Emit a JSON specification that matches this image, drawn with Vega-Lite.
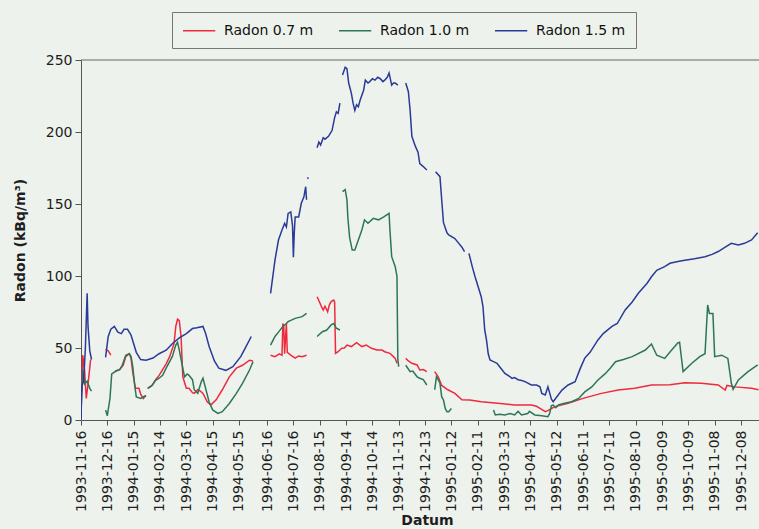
{
  "$schema": "https://vega.github.io/schema/vega-lite/v6.json",
  "width": 678,
  "height": 360,
  "autosize": {"type": "none"},
  "padding": {"left": 81, "top": 60, "right": 0, "bottom": 109},
  "background": "#eef2ec",
  "config": {
    "view": {"stroke": null},
    "font": "DejaVu Sans",
    "axis": {
      "labelFont": "DejaVu Sans",
      "labelFontSize": 14,
      "labelColor": "#1e1e1e",
      "titleFont": "DejaVu Sans",
      "titleFontSize": 14,
      "titleFontWeight": "bold",
      "titleColor": "#1e1e1e",
      "domainColor": "#555555",
      "tickColor": "#555555",
      "grid": false
    }
  },
  "layer": [
    {
      "data": {"values": [{}]},
      "mark": {"type": "rule", "color": "#666666", "strokeWidth": 1},
      "encoding": {"y": {"datum": 250, "type": "quantitative"}}
    },
    {
      "data": {
        "values": [
          {"s": "Radon 0.7 m", "g": "R1", "d": "1993-11-17", "v": 20},
          {"s": "Radon 0.7 m", "g": "R1", "d": "1993-11-18", "v": 45},
          {"s": "Radon 0.7 m", "g": "R1", "d": "1993-11-20", "v": 35},
          {"s": "Radon 0.7 m", "g": "R1", "d": "1993-11-22", "v": 15},
          {"s": "Radon 0.7 m", "g": "R1", "d": "1993-11-24", "v": 25},
          {"s": "Radon 0.7 m", "g": "R1", "d": "1993-11-27", "v": 42},
          {"s": "Radon 0.7 m", "g": "R2", "d": "1993-12-14", "v": 49},
          {"s": "Radon 0.7 m", "g": "R2", "d": "1993-12-17", "v": 48},
          {"s": "Radon 0.7 m", "g": "R2", "d": "1993-12-20", "v": 45},
          {"s": "Radon 0.7 m", "g": "R3", "d": "1993-12-25", "v": 34},
          {"s": "Radon 0.7 m", "g": "R3", "d": "1993-12-30", "v": 35},
          {"s": "Radon 0.7 m", "g": "R3", "d": "1994-01-03", "v": 38},
          {"s": "Radon 0.7 m", "g": "R3", "d": "1994-01-06", "v": 44},
          {"s": "Radon 0.7 m", "g": "R3", "d": "1994-01-10", "v": 46},
          {"s": "Radon 0.7 m", "g": "R3", "d": "1994-01-12", "v": 43},
          {"s": "Radon 0.7 m", "g": "R3", "d": "1994-01-14", "v": 33},
          {"s": "Radon 0.7 m", "g": "R3", "d": "1994-01-17", "v": 22},
          {"s": "Radon 0.7 m", "g": "R3", "d": "1994-01-21", "v": 22},
          {"s": "Radon 0.7 m", "g": "R3", "d": "1994-01-23", "v": 18},
          {"s": "Radon 0.7 m", "g": "R3", "d": "1994-01-26", "v": 15},
          {"s": "Radon 0.7 m", "g": "R3", "d": "1994-01-29", "v": 17},
          {"s": "Radon 0.7 m", "g": "R4", "d": "1994-01-31", "v": 22},
          {"s": "Radon 0.7 m", "g": "R4", "d": "1994-02-05", "v": 24},
          {"s": "Radon 0.7 m", "g": "R4", "d": "1994-02-09", "v": 28},
          {"s": "Radon 0.7 m", "g": "R4", "d": "1994-02-13", "v": 31},
          {"s": "Radon 0.7 m", "g": "R4", "d": "1994-02-17", "v": 35},
          {"s": "Radon 0.7 m", "g": "R4", "d": "1994-02-21", "v": 39},
          {"s": "Radon 0.7 m", "g": "R4", "d": "1994-02-25", "v": 44},
          {"s": "Radon 0.7 m", "g": "R4", "d": "1994-03-02", "v": 53},
          {"s": "Radon 0.7 m", "g": "R4", "d": "1994-03-04", "v": 65},
          {"s": "Radon 0.7 m", "g": "R4", "d": "1994-03-06", "v": 70},
          {"s": "Radon 0.7 m", "g": "R4", "d": "1994-03-08", "v": 69},
          {"s": "Radon 0.7 m", "g": "R4", "d": "1994-03-10", "v": 58},
          {"s": "Radon 0.7 m", "g": "R4", "d": "1994-03-12", "v": 30},
          {"s": "Radon 0.7 m", "g": "R4", "d": "1994-03-16", "v": 22},
          {"s": "Radon 0.7 m", "g": "R4", "d": "1994-03-19", "v": 22},
          {"s": "Radon 0.7 m", "g": "R4", "d": "1994-03-23", "v": 19},
          {"s": "Radon 0.7 m", "g": "R4", "d": "1994-03-25", "v": 18.5},
          {"s": "Radon 0.7 m", "g": "R4", "d": "1994-03-29", "v": 21},
          {"s": "Radon 0.7 m", "g": "R4", "d": "1994-04-01", "v": 20},
          {"s": "Radon 0.7 m", "g": "R4", "d": "1994-04-04", "v": 18.5},
          {"s": "Radon 0.7 m", "g": "R4", "d": "1994-04-09", "v": 12.5},
          {"s": "Radon 0.7 m", "g": "R4", "d": "1994-04-13", "v": 10.5},
          {"s": "Radon 0.7 m", "g": "R4", "d": "1994-04-19", "v": 14},
          {"s": "Radon 0.7 m", "g": "R4", "d": "1994-04-26", "v": 21},
          {"s": "Radon 0.7 m", "g": "R4", "d": "1994-05-04", "v": 30},
          {"s": "Radon 0.7 m", "g": "R4", "d": "1994-05-12", "v": 36},
          {"s": "Radon 0.7 m", "g": "R4", "d": "1994-05-19", "v": 38},
          {"s": "Radon 0.7 m", "g": "R4", "d": "1994-05-27", "v": 41.5},
          {"s": "Radon 0.7 m", "g": "R4", "d": "1994-05-31", "v": 41},
          {"s": "Radon 0.7 m", "g": "R5", "d": "1994-06-20", "v": 45},
          {"s": "Radon 0.7 m", "g": "R5", "d": "1994-06-25", "v": 44},
          {"s": "Radon 0.7 m", "g": "R5", "d": "1994-06-30", "v": 46},
          {"s": "Radon 0.7 m", "g": "R5", "d": "1994-07-03", "v": 45},
          {"s": "Radon 0.7 m", "g": "R5", "d": "1994-07-04", "v": 67},
          {"s": "Radon 0.7 m", "g": "R5", "d": "1994-07-05", "v": 65},
          {"s": "Radon 0.7 m", "g": "R5", "d": "1994-07-06", "v": 46},
          {"s": "Radon 0.7 m", "g": "R5", "d": "1994-07-08", "v": 67},
          {"s": "Radon 0.7 m", "g": "R5", "d": "1994-07-09", "v": 47},
          {"s": "Radon 0.7 m", "g": "R5", "d": "1994-07-13", "v": 45},
          {"s": "Radon 0.7 m", "g": "R5", "d": "1994-07-18", "v": 43},
          {"s": "Radon 0.7 m", "g": "R5", "d": "1994-07-22", "v": 44.5},
          {"s": "Radon 0.7 m", "g": "R5", "d": "1994-07-26", "v": 44},
          {"s": "Radon 0.7 m", "g": "R5", "d": "1994-07-31", "v": 45},
          {"s": "Radon 0.7 m", "g": "R6", "d": "1994-08-12", "v": 85.6},
          {"s": "Radon 0.7 m", "g": "R6", "d": "1994-08-14", "v": 83},
          {"s": "Radon 0.7 m", "g": "R6", "d": "1994-08-17", "v": 78.7},
          {"s": "Radon 0.7 m", "g": "R6", "d": "1994-08-19", "v": 76.4},
          {"s": "Radon 0.7 m", "g": "R6", "d": "1994-08-21", "v": 79},
          {"s": "Radon 0.7 m", "g": "R6", "d": "1994-08-24", "v": 75.2},
          {"s": "Radon 0.7 m", "g": "R6", "d": "1994-08-26", "v": 80},
          {"s": "Radon 0.7 m", "g": "R6", "d": "1994-08-28", "v": 82.2},
          {"s": "Radon 0.7 m", "g": "R6", "d": "1994-08-31", "v": 83.3},
          {"s": "Radon 0.7 m", "g": "R6", "d": "1994-09-01", "v": 82},
          {"s": "Radon 0.7 m", "g": "R6", "d": "1994-09-02", "v": 46.3},
          {"s": "Radon 0.7 m", "g": "R6", "d": "1994-09-05", "v": 47.4},
          {"s": "Radon 0.7 m", "g": "R6", "d": "1994-09-09", "v": 49.8},
          {"s": "Radon 0.7 m", "g": "R6", "d": "1994-09-12", "v": 50},
          {"s": "Radon 0.7 m", "g": "R6", "d": "1994-09-15", "v": 52},
          {"s": "Radon 0.7 m", "g": "R6", "d": "1994-09-20", "v": 51},
          {"s": "Radon 0.7 m", "g": "R6", "d": "1994-09-26", "v": 53.7},
          {"s": "Radon 0.7 m", "g": "R6", "d": "1994-10-02", "v": 51},
          {"s": "Radon 0.7 m", "g": "R6", "d": "1994-10-07", "v": 52},
          {"s": "Radon 0.7 m", "g": "R6", "d": "1994-10-13", "v": 49.8},
          {"s": "Radon 0.7 m", "g": "R6", "d": "1994-10-19", "v": 48.6},
          {"s": "Radon 0.7 m", "g": "R6", "d": "1994-10-25", "v": 48.6},
          {"s": "Radon 0.7 m", "g": "R6", "d": "1994-10-28", "v": 47.4},
          {"s": "Radon 0.7 m", "g": "R6", "d": "1994-11-03", "v": 46.3},
          {"s": "Radon 0.7 m", "g": "R6", "d": "1994-11-07", "v": 44},
          {"s": "Radon 0.7 m", "g": "R6", "d": "1994-11-09", "v": 42.8},
          {"s": "Radon 0.7 m", "g": "R6", "d": "1994-11-11", "v": 39.4},
          {"s": "Radon 0.7 m", "g": "R7", "d": "1994-11-21", "v": 42.8},
          {"s": "Radon 0.7 m", "g": "R7", "d": "1994-11-24", "v": 41},
          {"s": "Radon 0.7 m", "g": "R7", "d": "1994-11-28", "v": 39.4},
          {"s": "Radon 0.7 m", "g": "R7", "d": "1994-12-04", "v": 38.2},
          {"s": "Radon 0.7 m", "g": "R7", "d": "1994-12-07", "v": 34.7},
          {"s": "Radon 0.7 m", "g": "R7", "d": "1994-12-11", "v": 35},
          {"s": "Radon 0.7 m", "g": "R7", "d": "1994-12-15", "v": 33.6},
          {"s": "Radon 0.7 m", "g": "R8", "d": "1994-12-24", "v": 33.6},
          {"s": "Radon 0.7 m", "g": "R8", "d": "1994-12-28", "v": 30},
          {"s": "Radon 0.7 m", "g": "R8", "d": "1995-01-01", "v": 24},
          {"s": "Radon 0.7 m", "g": "R8", "d": "1995-01-08", "v": 21},
          {"s": "Radon 0.7 m", "g": "R8", "d": "1995-01-16", "v": 18.5},
          {"s": "Radon 0.7 m", "g": "R8", "d": "1995-01-24", "v": 14},
          {"s": "Radon 0.7 m", "g": "R8", "d": "1995-02-02", "v": 13.9},
          {"s": "Radon 0.7 m", "g": "R8", "d": "1995-02-15", "v": 12.7},
          {"s": "Radon 0.7 m", "g": "R8", "d": "1995-03-06", "v": 11.6},
          {"s": "Radon 0.7 m", "g": "R8", "d": "1995-03-25", "v": 10.4},
          {"s": "Radon 0.7 m", "g": "R8", "d": "1995-04-13", "v": 10.4},
          {"s": "Radon 0.7 m", "g": "R8", "d": "1995-04-19", "v": 9.5},
          {"s": "Radon 0.7 m", "g": "R8", "d": "1995-04-23", "v": 8},
          {"s": "Radon 0.7 m", "g": "R8", "d": "1995-04-29", "v": 5.8},
          {"s": "Radon 0.7 m", "g": "R8", "d": "1995-05-02", "v": 6.5},
          {"s": "Radon 0.7 m", "g": "R8", "d": "1995-05-06", "v": 8},
          {"s": "Radon 0.7 m", "g": "R8", "d": "1995-05-10", "v": 9.3},
          {"s": "Radon 0.7 m", "g": "R8", "d": "1995-05-25", "v": 11.6},
          {"s": "Radon 0.7 m", "g": "R8", "d": "1995-06-11", "v": 15},
          {"s": "Radon 0.7 m", "g": "R8", "d": "1995-07-02", "v": 18.5},
          {"s": "Radon 0.7 m", "g": "R8", "d": "1995-07-21", "v": 20.8},
          {"s": "Radon 0.7 m", "g": "R8", "d": "1995-08-09", "v": 22},
          {"s": "Radon 0.7 m", "g": "R8", "d": "1995-08-28", "v": 24.3},
          {"s": "Radon 0.7 m", "g": "R8", "d": "1995-09-18", "v": 24.5},
          {"s": "Radon 0.7 m", "g": "R8", "d": "1995-10-05", "v": 25.9},
          {"s": "Radon 0.7 m", "g": "R8", "d": "1995-10-24", "v": 25.5},
          {"s": "Radon 0.7 m", "g": "R8", "d": "1995-11-12", "v": 24.3},
          {"s": "Radon 0.7 m", "g": "R8", "d": "1995-11-20", "v": 20.8},
          {"s": "Radon 0.7 m", "g": "R8", "d": "1995-11-22", "v": 24},
          {"s": "Radon 0.7 m", "g": "R8", "d": "1995-12-01", "v": 23},
          {"s": "Radon 0.7 m", "g": "R8", "d": "1995-12-20", "v": 22},
          {"s": "Radon 0.7 m", "g": "R8", "d": "1995-12-28", "v": 21},

          {"s": "Radon 1.0 m", "g": "G1", "d": "1993-11-16", "v": 5},
          {"s": "Radon 1.0 m", "g": "G1", "d": "1993-11-18", "v": 35},
          {"s": "Radon 1.0 m", "g": "G1", "d": "1993-11-20", "v": 25},
          {"s": "Radon 1.0 m", "g": "G1", "d": "1993-11-23", "v": 27},
          {"s": "Radon 1.0 m", "g": "G1", "d": "1993-11-26", "v": 22},
          {"s": "Radon 1.0 m", "g": "G1", "d": "1993-11-28", "v": 20},
          {"s": "Radon 1.0 m", "g": "G2", "d": "1993-12-14", "v": 7},
          {"s": "Radon 1.0 m", "g": "G2", "d": "1993-12-16", "v": 3},
          {"s": "Radon 1.0 m", "g": "G2", "d": "1993-12-19", "v": 15},
          {"s": "Radon 1.0 m", "g": "G2", "d": "1993-12-21", "v": 32},
          {"s": "Radon 1.0 m", "g": "G2", "d": "1993-12-26", "v": 34},
          {"s": "Radon 1.0 m", "g": "G2", "d": "1993-12-30", "v": 35},
          {"s": "Radon 1.0 m", "g": "G2", "d": "1994-01-02", "v": 38},
          {"s": "Radon 1.0 m", "g": "G2", "d": "1994-01-06", "v": 45},
          {"s": "Radon 1.0 m", "g": "G2", "d": "1994-01-10", "v": 46},
          {"s": "Radon 1.0 m", "g": "G2", "d": "1994-01-12", "v": 44},
          {"s": "Radon 1.0 m", "g": "G2", "d": "1994-01-14", "v": 37},
          {"s": "Radon 1.0 m", "g": "G2", "d": "1994-01-16", "v": 25},
          {"s": "Radon 1.0 m", "g": "G2", "d": "1994-01-18", "v": 16},
          {"s": "Radon 1.0 m", "g": "G2", "d": "1994-01-23", "v": 15},
          {"s": "Radon 1.0 m", "g": "G2", "d": "1994-01-29", "v": 17},
          {"s": "Radon 1.0 m", "g": "G3", "d": "1994-01-31", "v": 22},
          {"s": "Radon 1.0 m", "g": "G3", "d": "1994-02-05", "v": 24},
          {"s": "Radon 1.0 m", "g": "G3", "d": "1994-02-09", "v": 27.5},
          {"s": "Radon 1.0 m", "g": "G3", "d": "1994-02-13", "v": 29},
          {"s": "Radon 1.0 m", "g": "G3", "d": "1994-02-17", "v": 31},
          {"s": "Radon 1.0 m", "g": "G3", "d": "1994-02-21", "v": 36},
          {"s": "Radon 1.0 m", "g": "G3", "d": "1994-02-28", "v": 44},
          {"s": "Radon 1.0 m", "g": "G3", "d": "1994-03-04", "v": 52},
          {"s": "Radon 1.0 m", "g": "G3", "d": "1994-03-06", "v": 54},
          {"s": "Radon 1.0 m", "g": "G3", "d": "1994-03-08", "v": 48.5},
          {"s": "Radon 1.0 m", "g": "G3", "d": "1994-03-11", "v": 39},
          {"s": "Radon 1.0 m", "g": "G3", "d": "1994-03-14", "v": 30},
          {"s": "Radon 1.0 m", "g": "G3", "d": "1994-03-17", "v": 32},
          {"s": "Radon 1.0 m", "g": "G3", "d": "1994-03-19", "v": 31},
          {"s": "Radon 1.0 m", "g": "G3", "d": "1994-03-23", "v": 28},
          {"s": "Radon 1.0 m", "g": "G3", "d": "1994-03-25", "v": 21},
          {"s": "Radon 1.0 m", "g": "G3", "d": "1994-03-29", "v": 18.5},
          {"s": "Radon 1.0 m", "g": "G3", "d": "1994-04-02", "v": 26.5},
          {"s": "Radon 1.0 m", "g": "G3", "d": "1994-04-04", "v": 29},
          {"s": "Radon 1.0 m", "g": "G3", "d": "1994-04-07", "v": 22},
          {"s": "Radon 1.0 m", "g": "G3", "d": "1994-04-11", "v": 12.5},
          {"s": "Radon 1.0 m", "g": "G3", "d": "1994-04-15", "v": 7},
          {"s": "Radon 1.0 m", "g": "G3", "d": "1994-04-21", "v": 4.6},
          {"s": "Radon 1.0 m", "g": "G3", "d": "1994-04-26", "v": 5.8},
          {"s": "Radon 1.0 m", "g": "G3", "d": "1994-05-04", "v": 11.5},
          {"s": "Radon 1.0 m", "g": "G3", "d": "1994-05-12", "v": 18.5},
          {"s": "Radon 1.0 m", "g": "G3", "d": "1994-05-19", "v": 25.5},
          {"s": "Radon 1.0 m", "g": "G3", "d": "1994-05-27", "v": 34.7},
          {"s": "Radon 1.0 m", "g": "G3", "d": "1994-05-31", "v": 40.5},
          {"s": "Radon 1.0 m", "g": "G4", "d": "1994-06-20", "v": 52},
          {"s": "Radon 1.0 m", "g": "G4", "d": "1994-06-25", "v": 58},
          {"s": "Radon 1.0 m", "g": "G4", "d": "1994-06-29", "v": 61},
          {"s": "Radon 1.0 m", "g": "G4", "d": "1994-07-04", "v": 65},
          {"s": "Radon 1.0 m", "g": "G4", "d": "1994-07-08", "v": 67},
          {"s": "Radon 1.0 m", "g": "G4", "d": "1994-07-10", "v": 68.3},
          {"s": "Radon 1.0 m", "g": "G4", "d": "1994-07-18", "v": 70.6},
          {"s": "Radon 1.0 m", "g": "G4", "d": "1994-07-26", "v": 71.8},
          {"s": "Radon 1.0 m", "g": "G4", "d": "1994-07-31", "v": 74},
          {"s": "Radon 1.0 m", "g": "G5", "d": "1994-08-12", "v": 58},
          {"s": "Radon 1.0 m", "g": "G5", "d": "1994-08-18", "v": 61.3},
          {"s": "Radon 1.0 m", "g": "G5", "d": "1994-08-23", "v": 62.5},
          {"s": "Radon 1.0 m", "g": "G5", "d": "1994-08-28", "v": 66},
          {"s": "Radon 1.0 m", "g": "G5", "d": "1994-08-31", "v": 67},
          {"s": "Radon 1.0 m", "g": "G5", "d": "1994-09-03", "v": 63.7},
          {"s": "Radon 1.0 m", "g": "G5", "d": "1994-09-07", "v": 62.5},
          {"s": "Radon 1.0 m", "g": "G6", "d": "1994-09-10", "v": 158.6},
          {"s": "Radon 1.0 m", "g": "G6", "d": "1994-09-13", "v": 160},
          {"s": "Radon 1.0 m", "g": "G6", "d": "1994-09-15", "v": 153},
          {"s": "Radon 1.0 m", "g": "G6", "d": "1994-09-16", "v": 141},
          {"s": "Radon 1.0 m", "g": "G6", "d": "1994-09-18", "v": 127},
          {"s": "Radon 1.0 m", "g": "G6", "d": "1994-09-21", "v": 118},
          {"s": "Radon 1.0 m", "g": "G6", "d": "1994-09-24", "v": 118},
          {"s": "Radon 1.0 m", "g": "G6", "d": "1994-09-28", "v": 125},
          {"s": "Radon 1.0 m", "g": "G6", "d": "1994-10-02", "v": 132},
          {"s": "Radon 1.0 m", "g": "G6", "d": "1994-10-05", "v": 139},
          {"s": "Radon 1.0 m", "g": "G6", "d": "1994-10-09", "v": 136.6},
          {"s": "Radon 1.0 m", "g": "G6", "d": "1994-10-15", "v": 140},
          {"s": "Radon 1.0 m", "g": "G6", "d": "1994-10-21", "v": 139},
          {"s": "Radon 1.0 m", "g": "G6", "d": "1994-10-27", "v": 141},
          {"s": "Radon 1.0 m", "g": "G6", "d": "1994-11-02", "v": 143.5},
          {"s": "Radon 1.0 m", "g": "G6", "d": "1994-11-03", "v": 132},
          {"s": "Radon 1.0 m", "g": "G6", "d": "1994-11-05", "v": 113.4},
          {"s": "Radon 1.0 m", "g": "G6", "d": "1994-11-09", "v": 106.5},
          {"s": "Radon 1.0 m", "g": "G6", "d": "1994-11-11", "v": 100},
          {"s": "Radon 1.0 m", "g": "G6", "d": "1994-11-12", "v": 41.7},
          {"s": "Radon 1.0 m", "g": "G6", "d": "1994-11-13", "v": 37},
          {"s": "Radon 1.0 m", "g": "G7", "d": "1994-11-21", "v": 38},
          {"s": "Radon 1.0 m", "g": "G7", "d": "1994-11-26", "v": 33.6},
          {"s": "Radon 1.0 m", "g": "G7", "d": "1994-11-29", "v": 34},
          {"s": "Radon 1.0 m", "g": "G7", "d": "1994-12-04", "v": 30},
          {"s": "Radon 1.0 m", "g": "G7", "d": "1994-12-07", "v": 29},
          {"s": "Radon 1.0 m", "g": "G7", "d": "1994-12-11", "v": 28},
          {"s": "Radon 1.0 m", "g": "G7", "d": "1994-12-15", "v": 24.3},
          {"s": "Radon 1.0 m", "g": "G8", "d": "1994-12-24", "v": 21},
          {"s": "Radon 1.0 m", "g": "G8", "d": "1994-12-26", "v": 30},
          {"s": "Radon 1.0 m", "g": "G8", "d": "1994-12-28", "v": 28},
          {"s": "Radon 1.0 m", "g": "G8", "d": "1994-12-30", "v": 25.5},
          {"s": "Radon 1.0 m", "g": "G8", "d": "1995-01-01", "v": 16},
          {"s": "Radon 1.0 m", "g": "G8", "d": "1995-01-03", "v": 13.9},
          {"s": "Radon 1.0 m", "g": "G8", "d": "1995-01-05", "v": 8},
          {"s": "Radon 1.0 m", "g": "G8", "d": "1995-01-07", "v": 5.8},
          {"s": "Radon 1.0 m", "g": "G8", "d": "1995-01-09", "v": 5.8},
          {"s": "Radon 1.0 m", "g": "G8", "d": "1995-01-12", "v": 8},
          {"s": "Radon 1.0 m", "g": "G9", "d": "1995-03-01", "v": 7},
          {"s": "Radon 1.0 m", "g": "G9", "d": "1995-03-03", "v": 3.5},
          {"s": "Radon 1.0 m", "g": "G9", "d": "1995-03-08", "v": 4},
          {"s": "Radon 1.0 m", "g": "G9", "d": "1995-03-14", "v": 3.5},
          {"s": "Radon 1.0 m", "g": "G9", "d": "1995-03-20", "v": 4.5},
          {"s": "Radon 1.0 m", "g": "G9", "d": "1995-03-25", "v": 3.5},
          {"s": "Radon 1.0 m", "g": "G9", "d": "1995-03-29", "v": 6},
          {"s": "Radon 1.0 m", "g": "G9", "d": "1995-04-02", "v": 3.5},
          {"s": "Radon 1.0 m", "g": "G9", "d": "1995-04-09", "v": 4.5},
          {"s": "Radon 1.0 m", "g": "G9", "d": "1995-04-11", "v": 6},
          {"s": "Radon 1.0 m", "g": "G9", "d": "1995-04-17", "v": 3.5},
          {"s": "Radon 1.0 m", "g": "G9", "d": "1995-04-25", "v": 3},
          {"s": "Radon 1.0 m", "g": "G9", "d": "1995-05-02", "v": 2.3},
          {"s": "Radon 1.0 m", "g": "G9", "d": "1995-05-04", "v": 4.6},
          {"s": "Radon 1.0 m", "g": "G9", "d": "1995-05-06", "v": 10},
          {"s": "Radon 1.0 m", "g": "G9", "d": "1995-05-08", "v": 10.4},
          {"s": "Radon 1.0 m", "g": "G9", "d": "1995-05-11", "v": 8.5},
          {"s": "Radon 1.0 m", "g": "G9", "d": "1995-05-14", "v": 10.4},
          {"s": "Radon 1.0 m", "g": "G9", "d": "1995-05-21", "v": 11.6},
          {"s": "Radon 1.0 m", "g": "G9", "d": "1995-05-29", "v": 12.7},
          {"s": "Radon 1.0 m", "g": "G9", "d": "1995-06-06", "v": 15},
          {"s": "Radon 1.0 m", "g": "G9", "d": "1995-06-13", "v": 19.5},
          {"s": "Radon 1.0 m", "g": "G9", "d": "1995-06-21", "v": 23},
          {"s": "Radon 1.0 m", "g": "G9", "d": "1995-06-28", "v": 27.8},
          {"s": "Radon 1.0 m", "g": "G9", "d": "1995-07-06", "v": 32},
          {"s": "Radon 1.0 m", "g": "G9", "d": "1995-07-12", "v": 36},
          {"s": "Radon 1.0 m", "g": "G9", "d": "1995-07-18", "v": 40.5},
          {"s": "Radon 1.0 m", "g": "G9", "d": "1995-07-27", "v": 42},
          {"s": "Radon 1.0 m", "g": "G9", "d": "1995-08-06", "v": 44},
          {"s": "Radon 1.0 m", "g": "G9", "d": "1995-08-21", "v": 48.6},
          {"s": "Radon 1.0 m", "g": "G9", "d": "1995-08-28", "v": 52.8},
          {"s": "Radon 1.0 m", "g": "G9", "d": "1995-09-03", "v": 45},
          {"s": "Radon 1.0 m", "g": "G9", "d": "1995-09-12", "v": 42.8},
          {"s": "Radon 1.0 m", "g": "G9", "d": "1995-09-20", "v": 48.6},
          {"s": "Radon 1.0 m", "g": "G9", "d": "1995-09-27", "v": 53.5},
          {"s": "Radon 1.0 m", "g": "G9", "d": "1995-09-29", "v": 54},
          {"s": "Radon 1.0 m", "g": "G9", "d": "1995-10-03", "v": 33.6},
          {"s": "Radon 1.0 m", "g": "G9", "d": "1995-10-13", "v": 39.4},
          {"s": "Radon 1.0 m", "g": "G9", "d": "1995-10-22", "v": 44},
          {"s": "Radon 1.0 m", "g": "G9", "d": "1995-10-28", "v": 46},
          {"s": "Radon 1.0 m", "g": "G9", "d": "1995-10-31", "v": 79.9},
          {"s": "Radon 1.0 m", "g": "G9", "d": "1995-11-02", "v": 74},
          {"s": "Radon 1.0 m", "g": "G9", "d": "1995-11-06", "v": 74},
          {"s": "Radon 1.0 m", "g": "G9", "d": "1995-11-08", "v": 44},
          {"s": "Radon 1.0 m", "g": "G9", "d": "1995-11-16", "v": 45},
          {"s": "Radon 1.0 m", "g": "G9", "d": "1995-11-23", "v": 42.8},
          {"s": "Radon 1.0 m", "g": "G9", "d": "1995-11-27", "v": 25.5},
          {"s": "Radon 1.0 m", "g": "G9", "d": "1995-11-29", "v": 21.3},
          {"s": "Radon 1.0 m", "g": "G9", "d": "1995-12-05", "v": 27.8},
          {"s": "Radon 1.0 m", "g": "G9", "d": "1995-12-16", "v": 33.6},
          {"s": "Radon 1.0 m", "g": "G9", "d": "1995-12-27", "v": 38.2},

          {"s": "Radon 1.5 m", "g": "B1", "d": "1993-11-16", "v": 1},
          {"s": "Radon 1.5 m", "g": "B1", "d": "1993-11-17", "v": 24},
          {"s": "Radon 1.5 m", "g": "B1", "d": "1993-11-19", "v": 27},
          {"s": "Radon 1.5 m", "g": "B1", "d": "1993-11-21", "v": 50},
          {"s": "Radon 1.5 m", "g": "B1", "d": "1993-11-23", "v": 88},
          {"s": "Radon 1.5 m", "g": "B1", "d": "1993-11-24", "v": 65},
          {"s": "Radon 1.5 m", "g": "B1", "d": "1993-11-26", "v": 48},
          {"s": "Radon 1.5 m", "g": "B1", "d": "1993-11-28", "v": 42},
          {"s": "Radon 1.5 m", "g": "B2", "d": "1993-12-14", "v": 43.5},
          {"s": "Radon 1.5 m", "g": "B2", "d": "1993-12-17", "v": 58},
          {"s": "Radon 1.5 m", "g": "B2", "d": "1993-12-20", "v": 63},
          {"s": "Radon 1.5 m", "g": "B2", "d": "1993-12-24", "v": 65},
          {"s": "Radon 1.5 m", "g": "B2", "d": "1993-12-28", "v": 61},
          {"s": "Radon 1.5 m", "g": "B2", "d": "1994-01-01", "v": 60},
          {"s": "Radon 1.5 m", "g": "B2", "d": "1994-01-04", "v": 63},
          {"s": "Radon 1.5 m", "g": "B2", "d": "1994-01-08", "v": 63},
          {"s": "Radon 1.5 m", "g": "B2", "d": "1994-01-12", "v": 59},
          {"s": "Radon 1.5 m", "g": "B2", "d": "1994-01-15", "v": 53},
          {"s": "Radon 1.5 m", "g": "B2", "d": "1994-01-18", "v": 47},
          {"s": "Radon 1.5 m", "g": "B2", "d": "1994-01-23", "v": 42},
          {"s": "Radon 1.5 m", "g": "B2", "d": "1994-01-29", "v": 41.5},
          {"s": "Radon 1.5 m", "g": "B2", "d": "1994-02-06", "v": 43},
          {"s": "Radon 1.5 m", "g": "B2", "d": "1994-02-13", "v": 46},
          {"s": "Radon 1.5 m", "g": "B2", "d": "1994-02-21", "v": 48.5},
          {"s": "Radon 1.5 m", "g": "B2", "d": "1994-02-28", "v": 53},
          {"s": "Radon 1.5 m", "g": "B2", "d": "1994-03-08", "v": 57},
          {"s": "Radon 1.5 m", "g": "B2", "d": "1994-03-16", "v": 60},
          {"s": "Radon 1.5 m", "g": "B2", "d": "1994-03-23", "v": 63.5},
          {"s": "Radon 1.5 m", "g": "B2", "d": "1994-03-28", "v": 64},
          {"s": "Radon 1.5 m", "g": "B2", "d": "1994-04-04", "v": 65},
          {"s": "Radon 1.5 m", "g": "B2", "d": "1994-04-07", "v": 60},
          {"s": "Radon 1.5 m", "g": "B2", "d": "1994-04-11", "v": 51},
          {"s": "Radon 1.5 m", "g": "B2", "d": "1994-04-17", "v": 41},
          {"s": "Radon 1.5 m", "g": "B2", "d": "1994-04-22", "v": 36},
          {"s": "Radon 1.5 m", "g": "B2", "d": "1994-04-30", "v": 34.5},
          {"s": "Radon 1.5 m", "g": "B2", "d": "1994-05-08", "v": 37},
          {"s": "Radon 1.5 m", "g": "B2", "d": "1994-05-17", "v": 44},
          {"s": "Radon 1.5 m", "g": "B2", "d": "1994-05-23", "v": 51},
          {"s": "Radon 1.5 m", "g": "B2", "d": "1994-05-29", "v": 58},
          {"s": "Radon 1.5 m", "g": "B3", "d": "1994-06-20", "v": 88},
          {"s": "Radon 1.5 m", "g": "B3", "d": "1994-06-25", "v": 111},
          {"s": "Radon 1.5 m", "g": "B3", "d": "1994-06-29", "v": 125},
          {"s": "Radon 1.5 m", "g": "B3", "d": "1994-07-03", "v": 132},
          {"s": "Radon 1.5 m", "g": "B3", "d": "1994-07-06", "v": 136.5},
          {"s": "Radon 1.5 m", "g": "B3", "d": "1994-07-08", "v": 134},
          {"s": "Radon 1.5 m", "g": "B3", "d": "1994-07-10", "v": 143.5},
          {"s": "Radon 1.5 m", "g": "B3", "d": "1994-07-13", "v": 144.5},
          {"s": "Radon 1.5 m", "g": "B3", "d": "1994-07-15", "v": 135},
          {"s": "Radon 1.5 m", "g": "B3", "d": "1994-07-16", "v": 113},
          {"s": "Radon 1.5 m", "g": "B3", "d": "1994-07-17", "v": 130},
          {"s": "Radon 1.5 m", "g": "B3", "d": "1994-07-18", "v": 141},
          {"s": "Radon 1.5 m", "g": "B3", "d": "1994-07-22", "v": 141},
          {"s": "Radon 1.5 m", "g": "B3", "d": "1994-07-25", "v": 150.5},
          {"s": "Radon 1.5 m", "g": "B3", "d": "1994-07-28", "v": 155},
          {"s": "Radon 1.5 m", "g": "B3", "d": "1994-07-30", "v": 162},
          {"s": "Radon 1.5 m", "g": "B3", "d": "1994-07-31", "v": 153},
          {"s": "Radon 1.5 m", "g": "B4", "d": "1994-08-01", "v": 168.5},
          {"s": "Radon 1.5 m", "g": "B4", "d": "1994-08-02", "v": 167.5},
          {"s": "Radon 1.5 m", "g": "B5", "d": "1994-08-12", "v": 189},
          {"s": "Radon 1.5 m", "g": "B5", "d": "1994-08-14", "v": 193},
          {"s": "Radon 1.5 m", "g": "B5", "d": "1994-08-16", "v": 191},
          {"s": "Radon 1.5 m", "g": "B5", "d": "1994-08-19", "v": 196},
          {"s": "Radon 1.5 m", "g": "B5", "d": "1994-08-21", "v": 195},
          {"s": "Radon 1.5 m", "g": "B5", "d": "1994-08-25", "v": 197},
          {"s": "Radon 1.5 m", "g": "B5", "d": "1994-08-27", "v": 199},
          {"s": "Radon 1.5 m", "g": "B5", "d": "1994-08-29", "v": 201},
          {"s": "Radon 1.5 m", "g": "B5", "d": "1994-09-01", "v": 210},
          {"s": "Radon 1.5 m", "g": "B5", "d": "1994-09-03", "v": 214},
          {"s": "Radon 1.5 m", "g": "B5", "d": "1994-09-05", "v": 213},
          {"s": "Radon 1.5 m", "g": "B5", "d": "1994-09-07", "v": 220},
          {"s": "Radon 1.5 m", "g": "B6", "d": "1994-09-10", "v": 239.6},
          {"s": "Radon 1.5 m", "g": "B6", "d": "1994-09-13", "v": 245},
          {"s": "Radon 1.5 m", "g": "B6", "d": "1994-09-15", "v": 244},
          {"s": "Radon 1.5 m", "g": "B6", "d": "1994-09-17", "v": 234},
          {"s": "Radon 1.5 m", "g": "B6", "d": "1994-09-20", "v": 227},
          {"s": "Radon 1.5 m", "g": "B6", "d": "1994-09-22", "v": 220},
          {"s": "Radon 1.5 m", "g": "B6", "d": "1994-09-24", "v": 215},
          {"s": "Radon 1.5 m", "g": "B6", "d": "1994-09-26", "v": 219},
          {"s": "Radon 1.5 m", "g": "B6", "d": "1994-09-28", "v": 217.6},
          {"s": "Radon 1.5 m", "g": "B6", "d": "1994-09-30", "v": 222},
          {"s": "Radon 1.5 m", "g": "B6", "d": "1994-10-04", "v": 229},
          {"s": "Radon 1.5 m", "g": "B6", "d": "1994-10-06", "v": 236},
          {"s": "Radon 1.5 m", "g": "B6", "d": "1994-10-09", "v": 234},
          {"s": "Radon 1.5 m", "g": "B6", "d": "1994-10-11", "v": 235},
          {"s": "Radon 1.5 m", "g": "B6", "d": "1994-10-14", "v": 237},
          {"s": "Radon 1.5 m", "g": "B6", "d": "1994-10-17", "v": 236},
          {"s": "Radon 1.5 m", "g": "B6", "d": "1994-10-20", "v": 238},
          {"s": "Radon 1.5 m", "g": "B6", "d": "1994-10-23", "v": 237},
          {"s": "Radon 1.5 m", "g": "B6", "d": "1994-10-26", "v": 235},
          {"s": "Radon 1.5 m", "g": "B6", "d": "1994-10-28", "v": 236},
          {"s": "Radon 1.5 m", "g": "B6", "d": "1994-10-31", "v": 238},
          {"s": "Radon 1.5 m", "g": "B6", "d": "1994-11-02", "v": 241},
          {"s": "Radon 1.5 m", "g": "B6", "d": "1994-11-05", "v": 232.6},
          {"s": "Radon 1.5 m", "g": "B6", "d": "1994-11-07", "v": 234},
          {"s": "Radon 1.5 m", "g": "B6", "d": "1994-11-09", "v": 234},
          {"s": "Radon 1.5 m", "g": "B6", "d": "1994-11-12", "v": 232.6},
          {"s": "Radon 1.5 m", "g": "B7", "d": "1994-11-21", "v": 234},
          {"s": "Radon 1.5 m", "g": "B7", "d": "1994-11-24", "v": 228},
          {"s": "Radon 1.5 m", "g": "B7", "d": "1994-11-26", "v": 215},
          {"s": "Radon 1.5 m", "g": "B7", "d": "1994-11-28", "v": 197},
          {"s": "Radon 1.5 m", "g": "B7", "d": "1994-12-02", "v": 190},
          {"s": "Radon 1.5 m", "g": "B7", "d": "1994-12-05", "v": 186},
          {"s": "Radon 1.5 m", "g": "B7", "d": "1994-12-07", "v": 178},
          {"s": "Radon 1.5 m", "g": "B7", "d": "1994-12-11", "v": 176},
          {"s": "Radon 1.5 m", "g": "B7", "d": "1994-12-15", "v": 173.6},
          {"s": "Radon 1.5 m", "g": "B8", "d": "1994-12-25", "v": 172.4},
          {"s": "Radon 1.5 m", "g": "B8", "d": "1994-12-30", "v": 169},
          {"s": "Radon 1.5 m", "g": "B8", "d": "1995-01-01", "v": 152.8},
          {"s": "Radon 1.5 m", "g": "B8", "d": "1995-01-03", "v": 137},
          {"s": "Radon 1.5 m", "g": "B8", "d": "1995-01-07", "v": 130},
          {"s": "Radon 1.5 m", "g": "B8", "d": "1995-01-09", "v": 128.5},
          {"s": "Radon 1.5 m", "g": "B8", "d": "1995-01-16", "v": 126},
          {"s": "Radon 1.5 m", "g": "B8", "d": "1995-01-20", "v": 123},
          {"s": "Radon 1.5 m", "g": "B8", "d": "1995-01-24", "v": 120},
          {"s": "Radon 1.5 m", "g": "B8", "d": "1995-01-27", "v": 117},
          {"s": "Radon 1.5 m", "g": "B9", "d": "1995-02-01", "v": 115.7},
          {"s": "Radon 1.5 m", "g": "B9", "d": "1995-02-05", "v": 106},
          {"s": "Radon 1.5 m", "g": "B9", "d": "1995-02-08", "v": 99.5},
          {"s": "Radon 1.5 m", "g": "B9", "d": "1995-02-15", "v": 85.6},
          {"s": "Radon 1.5 m", "g": "B9", "d": "1995-02-17", "v": 78.7},
          {"s": "Radon 1.5 m", "g": "B9", "d": "1995-02-19", "v": 62.5},
          {"s": "Radon 1.5 m", "g": "B9", "d": "1995-02-21", "v": 55.6},
          {"s": "Radon 1.5 m", "g": "B9", "d": "1995-02-23", "v": 46},
          {"s": "Radon 1.5 m", "g": "B9", "d": "1995-02-25", "v": 41.7},
          {"s": "Radon 1.5 m", "g": "B9", "d": "1995-03-01", "v": 40.5},
          {"s": "Radon 1.5 m", "g": "B9", "d": "1995-03-05", "v": 39.4},
          {"s": "Radon 1.5 m", "g": "B9", "d": "1995-03-08", "v": 37},
          {"s": "Radon 1.5 m", "g": "B9", "d": "1995-03-14", "v": 32.4},
          {"s": "Radon 1.5 m", "g": "B9", "d": "1995-03-20", "v": 30},
          {"s": "Radon 1.5 m", "g": "B9", "d": "1995-03-22", "v": 28.9},
          {"s": "Radon 1.5 m", "g": "B9", "d": "1995-03-25", "v": 29.5},
          {"s": "Radon 1.5 m", "g": "B9", "d": "1995-03-29", "v": 28},
          {"s": "Radon 1.5 m", "g": "B9", "d": "1995-04-02", "v": 27.5},
          {"s": "Radon 1.5 m", "g": "B9", "d": "1995-04-06", "v": 26.6},
          {"s": "Radon 1.5 m", "g": "B9", "d": "1995-04-13", "v": 24.3},
          {"s": "Radon 1.5 m", "g": "B9", "d": "1995-04-19", "v": 24.3},
          {"s": "Radon 1.5 m", "g": "B9", "d": "1995-04-23", "v": 23},
          {"s": "Radon 1.5 m", "g": "B9", "d": "1995-04-25", "v": 18.5},
          {"s": "Radon 1.5 m", "g": "B9", "d": "1995-04-29", "v": 17.4},
          {"s": "Radon 1.5 m", "g": "B9", "d": "1995-05-02", "v": 23},
          {"s": "Radon 1.5 m", "g": "B9", "d": "1995-05-06", "v": 14.5},
          {"s": "Radon 1.5 m", "g": "B9", "d": "1995-05-08", "v": 12.7},
          {"s": "Radon 1.5 m", "g": "B9", "d": "1995-05-12", "v": 16},
          {"s": "Radon 1.5 m", "g": "B9", "d": "1995-05-18", "v": 20.8},
          {"s": "Radon 1.5 m", "g": "B9", "d": "1995-05-25", "v": 24.3},
          {"s": "Radon 1.5 m", "g": "B9", "d": "1995-06-02", "v": 26.6},
          {"s": "Radon 1.5 m", "g": "B9", "d": "1995-06-08", "v": 36},
          {"s": "Radon 1.5 m", "g": "B9", "d": "1995-06-13", "v": 43},
          {"s": "Radon 1.5 m", "g": "B9", "d": "1995-06-19", "v": 47},
          {"s": "Radon 1.5 m", "g": "B9", "d": "1995-06-28", "v": 55.6},
          {"s": "Radon 1.5 m", "g": "B9", "d": "1995-07-04", "v": 60},
          {"s": "Radon 1.5 m", "g": "B9", "d": "1995-07-14", "v": 65},
          {"s": "Radon 1.5 m", "g": "B9", "d": "1995-07-20", "v": 67},
          {"s": "Radon 1.5 m", "g": "B9", "d": "1995-07-29", "v": 76.4},
          {"s": "Radon 1.5 m", "g": "B9", "d": "1995-08-06", "v": 82},
          {"s": "Radon 1.5 m", "g": "B9", "d": "1995-08-13", "v": 88},
          {"s": "Radon 1.5 m", "g": "B9", "d": "1995-08-23", "v": 95},
          {"s": "Radon 1.5 m", "g": "B9", "d": "1995-08-28", "v": 99.5},
          {"s": "Radon 1.5 m", "g": "B9", "d": "1995-09-03", "v": 104},
          {"s": "Radon 1.5 m", "g": "B9", "d": "1995-09-12", "v": 106.5},
          {"s": "Radon 1.5 m", "g": "B9", "d": "1995-09-18", "v": 108.8},
          {"s": "Radon 1.5 m", "g": "B9", "d": "1995-09-27", "v": 110},
          {"s": "Radon 1.5 m", "g": "B9", "d": "1995-10-05", "v": 111},
          {"s": "Radon 1.5 m", "g": "B9", "d": "1995-10-16", "v": 112},
          {"s": "Radon 1.5 m", "g": "B9", "d": "1995-10-28", "v": 113.4},
          {"s": "Radon 1.5 m", "g": "B9", "d": "1995-11-05", "v": 115},
          {"s": "Radon 1.5 m", "g": "B9", "d": "1995-11-12", "v": 117},
          {"s": "Radon 1.5 m", "g": "B9", "d": "1995-11-20", "v": 120},
          {"s": "Radon 1.5 m", "g": "B9", "d": "1995-11-27", "v": 122.7},
          {"s": "Radon 1.5 m", "g": "B9", "d": "1995-12-05", "v": 121.5},
          {"s": "Radon 1.5 m", "g": "B9", "d": "1995-12-12", "v": 122.7},
          {"s": "Radon 1.5 m", "g": "B9", "d": "1995-12-20", "v": 125},
          {"s": "Radon 1.5 m", "g": "B9", "d": "1995-12-27", "v": 130}
        ]
      },
      "mark": {"type": "line", "strokeWidth": 1.5, "clip": true},
      "encoding": {
        "x": {
          "field": "d",
          "type": "temporal",
          "scale": {
            "type": "utc",
            "domain": [
              {"year": 1993, "month": 11, "date": 16, "utc": true},
              {"year": 1995, "month": 12, "date": 28, "hours": 12, "utc": true}
            ]
          },
          "axis": {
            "values": [
              {"year": 1993, "month": 11, "date": 16, "utc": true},
              {"year": 1993, "month": 12, "date": 16, "utc": true},
              {"year": 1994, "month": 1, "date": 15, "utc": true},
              {"year": 1994, "month": 2, "date": 14, "utc": true},
              {"year": 1994, "month": 3, "date": 16, "utc": true},
              {"year": 1994, "month": 4, "date": 15, "utc": true},
              {"year": 1994, "month": 5, "date": 15, "utc": true},
              {"year": 1994, "month": 6, "date": 16, "utc": true},
              {"year": 1994, "month": 7, "date": 16, "utc": true},
              {"year": 1994, "month": 8, "date": 15, "utc": true},
              {"year": 1994, "month": 9, "date": 14, "utc": true},
              {"year": 1994, "month": 10, "date": 14, "utc": true},
              {"year": 1994, "month": 11, "date": 13, "utc": true},
              {"year": 1994, "month": 12, "date": 13, "utc": true},
              {"year": 1995, "month": 1, "date": 12, "utc": true},
              {"year": 1995, "month": 2, "date": 11, "utc": true},
              {"year": 1995, "month": 3, "date": 13, "utc": true},
              {"year": 1995, "month": 4, "date": 12, "utc": true},
              {"year": 1995, "month": 5, "date": 12, "utc": true},
              {"year": 1995, "month": 6, "date": 11, "utc": true},
              {"year": 1995, "month": 7, "date": 11, "utc": true},
              {"year": 1995, "month": 8, "date": 10, "utc": true},
              {"year": 1995, "month": 9, "date": 9, "utc": true},
              {"year": 1995, "month": 10, "date": 9, "utc": true},
              {"year": 1995, "month": 11, "date": 8, "utc": true},
              {"year": 1995, "month": 12, "date": 8, "utc": true}
            ],
            "format": "%Y-%m-%d",
            "labelAngle": -90,
            "labelPadding": 5,
            "labelOverlap": false,
            "labelFlush": false,
            "tickSize": 5,
            "title": "Datum",
            "titlePadding": 2,
            "titleX": 346
          }
        },
        "y": {
          "field": "v",
          "type": "quantitative",
          "scale": {"domain": [0, 250], "nice": false},
          "axis": {
            "values": [0, 25, 50, 75, 100, 125, 150, 175, 200, 225, 250],
            "tickSize": 6,
            "labelPadding": 3,
            "title": "Radon (kBq/m³)",
            "titlePadding": 18
          }
        },
        "color": {
          "field": "s",
          "type": "nominal",
          "scale": {
            "domain": ["Radon 0.7 m", "Radon 1.0 m", "Radon 1.5 m"],
            "range": ["#ee2a3c", "#2c7658", "#2a3a98"]
          },
          "legend": {
            "orient": "none",
            "legendX": 91,
            "legendY": -48,
            "direction": "horizontal",
            "title": null,
            "symbolType": "M-1,0H3.3",
            "symbolSize": 225,
            "symbolStrokeWidth": 1.5,
            "labelFont": "DejaVu Sans",
            "labelFontSize": 14,
            "labelColor": "#111111",
            "labelOffset": 25,
            "labelLimit": 0,
            "columnPadding": 22,
            "padding": 10,
            "strokeColor": "#777777",
            "fillColor": "#eef2ec"
          }
        },
        "detail": {"field": "g", "type": "nominal"}
      }
    }
  ]
}
